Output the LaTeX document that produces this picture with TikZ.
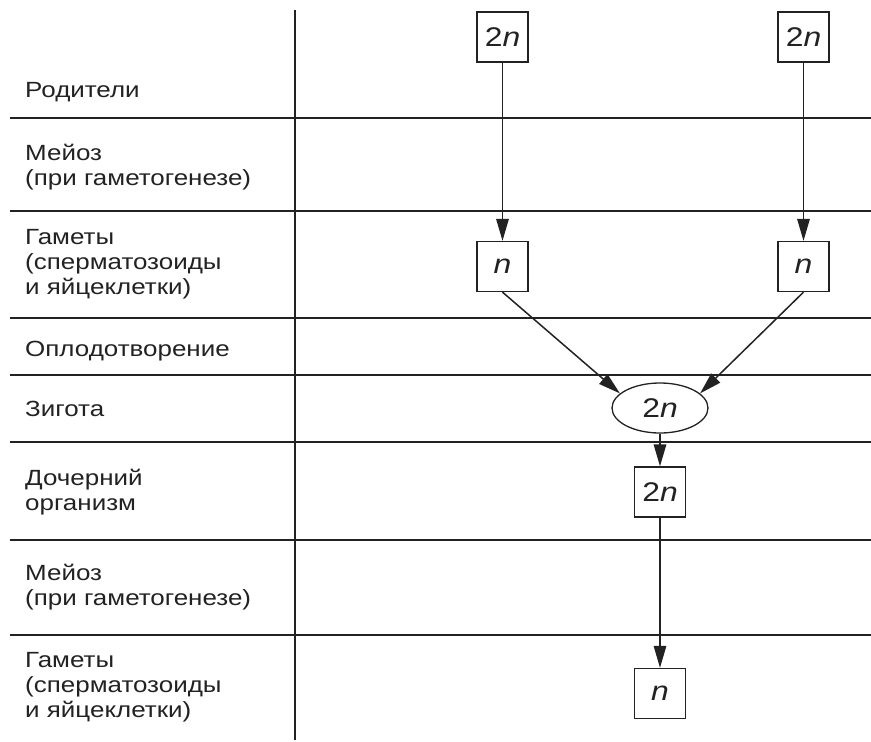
\documentclass[tikz,border=0pt]{standalone}
\usepackage{fontspec}
\setmainfont{Liberation Sans}[FakeStretch=1.18]
\usetikzlibrary{shapes.geometric,arrows.meta}
\definecolor{ink}{HTML}{222222}
\begin{document}
\begin{tikzpicture}[x=1pt,y=-1pt,
  rowline/.style={draw=ink,line width=1.6pt},
  lbl/.style={anchor=base west,inner sep=0pt,align=left,text=ink,font=\fontsize{22}{25}\selectfont},
  ploidy/.style={draw=ink,line width=1.3pt,minimum width=51pt,minimum height=50pt,inner sep=0pt,text=ink,font=\fontsize{27}{30}\selectfont},
  zyg/.style={ellipse,draw=ink,line width=1.3pt,minimum width=96pt,minimum height=50pt,inner sep=0pt,text=ink,font=\fontsize{27}{30}\selectfont},
  arr/.style={draw=ink,line width=1.5pt,-{Triangle[length=22pt,width=12.5pt]}},
  con/.style={draw=ink,line width=1.3pt}]
\useasboundingbox (0,0) rectangle (871,742);
% grid
\coordinate (vt) at (295,10);
\coordinate (vb) at (295,740);
\draw[rowline] (vt) -- (vb);
\foreach \yy/\nm in {118/a,211/b,318/c,375/d,442/e,540/f,635/g}{
  \coordinate (l\nm) at (10,\yy);
  \coordinate (r\nm) at (871,\yy);
  \draw[rowline] (l\nm) -- (r\nm);
}
% labels (multi-line nodes: base anchor is the last line)
\node[lbl] (t1) at (25,97) {Родители};
\node[lbl] (t2) at (25,185) {Мейоз\\(при гаметогенезе)};
\node[lbl] (t3) at (25,294) {Гаметы\\(сперматозоиды\\и яйцеклетки)};
\node[lbl] (t4) at (25,356) {Оплодотворение};
\node[lbl] (t5) at (25,416) {Зигота};
\node[lbl] (t6) at (25,510) {Дочерний\\организм};
\node[lbl] (t7) at (25,605) {Мейоз\\(при гаметогенезе)};
\node[lbl] (t8) at (25,717) {Гаметы\\(сперматозоиды\\и яйцеклетки)};
% nodes
\node[ploidy,fill=white] (p1) at (502.5,37) {2\textit{n}};
\node[ploidy,fill=white] (p2) at (803.5,37) {2\textit{n}};
\node[ploidy,fill=white] (g1) at (502.5,266.5) {\textit{n}};
\node[ploidy,fill=white] (g2) at (803.5,266.5) {\textit{n}};
\node[zyg,fill=white] (z) at (660,408) {2\textit{n}};
\node[ploidy,fill=white] (d) at (660,492) {2\textit{n}};
\node[ploidy,fill=white] (g3) at (660,693.5) {\textit{n}};
% connectors
\draw[arr] (p1) -- (g1);
\draw[arr] (p2) -- (g2);
\draw[arr] (g1.south) -- (z.160);
\draw[arr] (g2.south) -- (z.20);
\draw[arr] (z) -- (d);
\draw[arr] (d) -- (g3);
\end{tikzpicture}
\end{document}
